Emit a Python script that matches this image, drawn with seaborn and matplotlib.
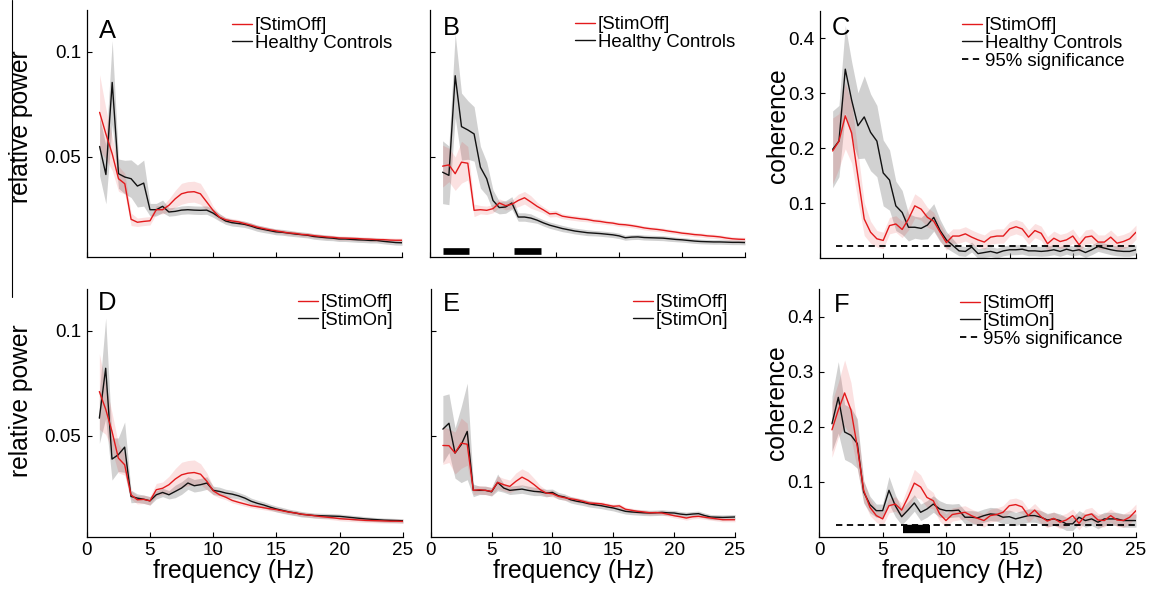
"""Relative power and coherence spectra, StimOff vs controls / StimOn (panels A-F)."""
import matplotlib

matplotlib.use("Agg")
import matplotlib.pyplot as plt
import numpy as np
import pandas as pd
import seaborn as sns
from matplotlib.lines import Line2D

W, H = 1151, 594

# frequency bins (0.5 Hz resolution, 1-25 Hz)
FREQ_HZ = np.arange(1.0, 25.5, 0.5)

# ---- A: relative power, StimOff vs Healthy Controls
A_OFF = [.0711, .0608, .0513, .0394, .0370, .0200, .0186, .0190, .0193, .0246,
         .0246, .0267, .0298, .0322, .0330, .0332, .0322, .0283, .0243, .0211,
         .0198, .0192, .0188, .0180, .0172, .0163, .0156, .0150, .0145, .0140,
         .0135, .0133, .0128, .0126, .0122, .0119, .0116, .0114, .0111, .0110,
         .0109, .0108, .0106, .0105, .0103, .0103, .0101, .0100, .0100]
A_OFF_ERR = [.018, .012, .008, .006, .005, .003, .002, .002, .002, .002,
             .002, .003, .004, .005, .005, .005, .005, .004, .002, .0015,
             .0012, .0012, .0011, .0011, .0011, .001, .001, .001, .001, .001,
             .001, .001, .001, .001, .001, .001, .001, .001, .001, .001,
             .001, .001, .001, .001, .001, .001, .001, .001, .001]
A_HC = [.0548, .0414, .0854, .0418, .0402, .0394, .0359, .0373, .0246, .0246,
        .0262, .0235, .0238, .0244, .0246, .0244, .0243, .0244, .0230, .0210,
        .0192, .0184, .0180, .0176, .0168, .0158, .0152, .0146, .0140, .0138,
        .0134, .0130, .0127, .0124, .0118, .0115, .0112, .0110, .0106, .0106,
        .0104, .0102, .0101, .0099, .0099, .0095, .0092, .0089, .0088]
A_HC_ERR = [.014, .014, .020, .007, .008, .009, .010, .011, .003, .003,
            .003, .002, .002, .002, .002, .002, .002, .002, .002, .0018,
            .0016, .0016, .0015, .0015, .0015, .0015, .0015, .0014, .0014, .0014,
            .0014, .0013, .0013, .0013, .0013, .0013, .0013, .0012, .0012, .0012,
            .0012, .0012, .0012, .0012, .0012, .0012, .0012, .0012, .0012]

# ---- B: relative power (second site), StimOff vs Healthy Controls
B_OFF = [.0454, .0460, .0418, .0473, .0468, .0243, .0246, .0243, .0251, .0278,
         .0265, .0272, .0290, .0303, .0283, .0262, .0245, .0226, .0228, .0215,
         .0210, .0206, .0202, .0199, .0193, .0190, .0185, .0182, .0176, .0174,
         .0170, .0165, .0159, .0155, .0152, .0148, .0143, .0139, .0134, .0131,
         .0127, .0125, .0121, .0119, .0116, .0111, .0107, .0105, .0104]
B_OFF_ERR = [.010, .008, .008, .010, .008, .003, .002, .002, .002, .002,
             .002, .002, .003, .003, .003, .002, .0015, .0015, .0015, .0012,
             .0012, .0012, .0012, .0011, .0011, .0011, .001, .001, .001, .001,
             .001, .001, .001, .001, .001, .001, .001, .001, .001, .001,
             .001, .001, .001, .001, .001, .001, .001, .001, .001]
B_HC = [.0425, .0410, .0886, .0643, .0627, .0608, .0449, .0394, .0290, .0256,
        .0259, .0278, .0211, .0211, .0206, .0196, .0183, .0172, .0164, .0156,
        .0150, .0144, .0140, .0136, .0134, .0132, .0129, .0126, .0121, .0112,
        .0115, .0116, .0113, .0112, .0111, .0110, .0107, .0104, .0102, .0099,
        .0096, .0094, .0093, .0092, .0092, .0091, .0090, .0090, .0089]
B_HC_ERR = [.015, .014, .020, .016, .014, .013, .010, .008, .005, .003,
            .003, .003, .002, .002, .002, .0015, .0015, .0015, .0015, .0015,
            .0014, .0014, .0014, .0014, .0013, .0013, .0013, .0013, .0013, .0012,
            .0012, .0012, .0012, .0012, .0012, .0012, .0012, .0011, .0011, .0011,
            .0011, .0011, .0011, .0011, .0011, .0011, .0011, .0011, .0011]
B_SIG_BARS_HZ = [(1.0, 3.1), (6.7, 8.8)]
B_SIG_BAR_Y = 0.0048

# ---- C: coherence, StimOff vs Healthy Controls
C_OFF = [.195, .213, .259, .228, .149, .071, .047, .035, .032, .059,
         .062, .052, .071, .095, .089, .074, .067, .047, .028, .040,
         .040, .044, .038, .033, .029, .038, .040, .040, .053, .057,
         .053, .038, .050, .045, .026, .036, .030, .033, .040, .024,
         .038, .040, .029, .029, .038, .027, .030, .035, .047]
C_OFF_ERR = [.060, .050, .060, .055, .045, .030, .020, .015, .015, .015,
             .015, .015, .020, .022, .020, .018, .016, .015, .014, .013,
             .013, .013, .013, .013, .013, .013, .013, .013, .013, .013,
             .013, .013, .013, .013, .013, .013, .013, .013, .013, .013,
             .013, .013, .013, .013, .013, .013, .013, .013, .013]
C_HC = [.198, .213, .344, .288, .241, .257, .229, .213, .155, .142,
        .095, .083, .056, .056, .054, .060, .074, .050, .033, .023,
        .013, .012, .020, .008, .010, .012, .009, .013, .015, .015,
        .016, .013, .013, .012, .013, .015, .012, .016, .013, .015,
        .010, .015, .021, .018, .015, .013, .012, .012, .015]
C_HC_ERR = [.070, .065, .080, .070, .060, .075, .070, .065, .060, .055,
            .045, .040, .025, .020, .020, .025, .025, .020, .015, .012,
            .009, .009, .009, .009, .009, .009, .009, .009, .009, .009,
            .009, .009, .009, .009, .009, .009, .009, .009, .009, .009,
            .009, .009, .009, .009, .009, .009, .009, .009, .009]

# ---- D: relative power, StimOff vs StimOn
D_OFF = [.0711, .0627, .0521, .0394, .0362, .0219, .0195, .0197, .0190, .0243,
         .0250, .0267, .0294, .0314, .0322, .0325, .0317, .0283, .0238, .0219,
         .0207, .0192, .0183, .0175, .0167, .0162, .0157, .0152, .0148, .0142,
         .0136, .0132, .0126, .0123, .0119, .0115, .0112, .0109, .0105, .0103,
         .0101, .0099, .0097, .0096, .0095, .0094, .0093, .0093, .0092]
D_OFF_ERR = [.018, .012, .009, .007, .005, .002, .002, .002, .002, .003,
             .003, .004, .005, .006, .006, .006, .005, .004, .002, .0015,
             .0012, .0012, .0011, .0011, .001, .001, .001, .001, .001, .001,
             .001, .001, .001, .001, .001, .001, .001, .001, .001, .001,
             .001, .001, .001, .001, .001, .001, .001, .001, .001]
D_ON = [.0584, .0822, .0389, .0410, .0446, .0211, .0203, .0198, .0190, .0219,
        .0230, .0219, .0235, .0251, .0275, .0262, .0267, .0275, .0240, .0235,
        .0227, .0222, .0214, .0203, .0188, .0178, .0170, .0160, .0151, .0144,
        .0137, .0132, .0126, .0123, .0120, .0119, .0118, .0117, .0116, .0113,
        .0110, .0107, .0104, .0102, .0100, .0098, .0097, .0096, .0095]
D_ON_ERR = [.012, .024, .010, .008, .012, .003, .002, .002, .002, .002,
            .002, .002, .003, .003, .003, .003, .003, .003, .002, .002,
            .0018, .0018, .0016, .0016, .0015, .0015, .0015, .0014, .0014, .0014,
            .0013, .0013, .0013, .0012, .0012, .0012, .0012, .0012, .0011, .0011,
            .0011, .0011, .0011, .001, .001, .001, .001, .001, .001]

# ---- E: relative power (second site), StimOff vs StimOn
E_OFF = [.0454, .0453, .0418, .0465, .0460, .0240, .0243, .0240, .0235, .0278,
         .0267, .0259, .0283, .0303, .0288, .0267, .0243, .0227, .0224, .0211,
         .0205, .0200, .0195, .0188, .0180, .0178, .0176, .0170, .0164, .0166,
         .0150, .0145, .0140, .0137, .0133, .0134, .0132, .0126, .0119, .0114,
         .0108, .0114, .0116, .0112, .0108, .0104, .0100, .0100, .0100]
E_OFF_ERR = [.009, .008, .010, .012, .010, .002, .002, .002, .002, .003,
             .003, .003, .004, .004, .004, .003, .002, .0015, .0015, .0012,
             .0012, .0011, .0011, .001, .001, .001, .001, .001, .001, .001,
             .001, .001, .001, .001, .001, .001, .001, .001, .001, .001,
             .001, .001, .001, .001, .001, .001, .001, .001, .001]
E_ON = [.0532, .0560, .0418, .0457, .0521, .0240, .0240, .0240, .0233, .0278,
        .0251, .0240, .0243, .0246, .0240, .0235, .0233, .0227, .0230, .0214,
        .0208, .0195, .0188, .0183, .0176, .0171, .0167, .0161, .0156, .0148,
        .0140, .0137, .0135, .0133, .0132, .0133, .0135, .0133, .0132, .0127,
        .0124, .0127, .0129, .0120, .0113, .0112, .0111, .0112, .0113]
E_ON_ERR = [.016, .014, .012, .018, .023, .003, .002, .002, .002, .004,
            .002, .002, .002, .002, .002, .002, .0018, .0018, .0016, .0016,
            .0015, .0015, .0015, .0015, .0015, .0014, .0014, .0014, .0014, .0014,
            .0013, .0013, .0013, .0013, .0013, .0013, .0013, .0012, .0012, .0012,
            .0012, .0012, .0012, .0012, .0012, .0012, .0012, .0012, .0012]

# ---- F: coherence, StimOff vs StimOn
F_OFF = [.194, .230, .261, .230, .163, .084, .053, .038, .032, .056,
         .059, .048, .071, .097, .090, .071, .065, .041, .029, .040,
         .042, .044, .038, .033, .029, .038, .040, .044, .056, .058,
         .054, .038, .048, .036, .028, .033, .026, .030, .038, .024,
         .038, .041, .030, .029, .038, .030, .029, .035, .047]
F_OFF_ERR = [.050, .050, .060, .050, .040, .020, .015, .012, .012, .013,
             .013, .013, .020, .025, .022, .018, .015, .013, .012, .012,
             .012, .012, .012, .012, .012, .012, .012, .012, .012, .012,
             .012, .012, .012, .012, .012, .012, .012, .012, .012, .012,
             .012, .012, .012, .012, .012, .012, .012, .012, .012]
F_ON = [.205, .253, .190, .184, .169, .081, .058, .047, .047, .084,
        .056, .036, .048, .061, .044, .050, .059, .050, .047, .047,
        .048, .035, .035, .034, .038, .041, .040, .035, .036, .032,
        .035, .038, .038, .035, .030, .032, .029, .023, .023, .035,
        .029, .032, .026, .032, .032, .032, .029, .029, .029]
F_ON_ERR = [.050, .065, .050, .050, .045, .020, .015, .012, .012, .025,
            .020, .015, .015, .015, .015, .015, .015, .015, .013, .012,
            .012, .012, .012, .012, .012, .012, .012, .012, .012, .012,
            .012, .012, .012, .012, .012, .012, .012, .012, .012, .012,
            .012, .012, .012, .012, .012, .012, .012, .012, .012]
F_SIG_BARS_HZ = [(6.6, 8.7)]
F_SIG_BAR_Y = 0.014

SIG_LEVEL = 0.021  # 95% significance of coherence
SIG_START_HZ = 1.3

POWER_TICKS = [0.05, 0.1]
POWER_TICKLABELS = ["0.05", "0.1"]
COH_TICKS = [0.1, 0.2, 0.3, 0.4]
COH_TICKLABELS = ["0.1", "0.2", "0.3", "0.4"]
FREQ_TICKS = [0, 5, 10, 15, 20, 25]

RED = "#e31a1c"
BLACK = "#111111"
LABEL_OFF = "[StimOff]"


def px_box(x0, y0, x1, y1):
    return [x0 / W, 1 - y1 / H, (x1 - x0) / W, (y1 - y0) / H]


def fig_xy(x, y):
    return x / W, 1 - y / H


PANELS = [
    dict(letter="A", box=(87, 10, 402, 257), letter_xy=(99, 38), leg_xy=(232, 17),
         off=A_OFF, off_err=A_OFF_ERR, other=A_HC, other_err=A_HC_ERR,
         other_label="Healthy Controls", kind="power", row=0, ylab=True,
         ylab_xy=(-0.170, 0.527)),
    dict(letter="B", box=(430, 10, 745, 257), letter_xy=(443, 35), leg_xy=(575, 16),
         off=B_OFF, off_err=B_OFF_ERR, other=B_HC, other_err=B_HC_ERR,
         other_label="Healthy Controls", kind="power", row=0, ylab=False,
         bars=B_SIG_BARS_HZ, bar_y=B_SIG_BAR_Y, bar_lw=4.8),
    dict(letter="C", box=(820, 11, 1136, 258), letter_xy=(832, 35), leg_xy=(962, 17),
         off=C_OFF, off_err=C_OFF_ERR, other=C_HC, other_err=C_HC_ERR,
         other_label="Healthy Controls", kind="coh", row=0, ylab=True,
         ylab_xy=(-0.095, 0.534)),
    dict(letter="D", box=(86.7, 289, 403, 536.5), letter_xy=(98, 310), leg_xy=(298, 294),
         off=D_OFF, off_err=D_OFF_ERR, other=D_ON, other_err=D_ON_ERR,
         other_label="[StimOn]", kind="power", row=1, ylab=True,
         ylab_xy=(-0.170, 0.55), xlab_x=0.463),
    dict(letter="E", box=(430.7, 289, 735, 536.5), letter_xy=(443, 311), leg_xy=(633, 294),
         off=E_OFF, off_err=E_OFF_ERR, other=E_ON, other_err=E_ON_ERR,
         other_label="[StimOn]", kind="power", row=1, ylab=False, xlab_x=0.471),
    dict(letter="F", box=(819.3, 289, 1136, 536.5), letter_xy=(834, 311.5), leg_xy=(960, 295),
         off=F_OFF, off_err=F_OFF_ERR, other=F_ON, other_err=F_ON_ERR,
         other_label="[StimOn]", kind="coh", row=1, ylab=True,
         ylab_xy=(-0.095, 0.54), xlab_x=0.454,
         bars=F_SIG_BARS_HZ, bar_y=F_SIG_BAR_Y, bar_lw=6.0),
]


def draw_panel(fig, p):
    ax = fig.add_axes(px_box(*p["box"]))
    df = pd.concat([
        pd.DataFrame({"freq": FREQ_HZ, "value": p["off"], "err": p["off_err"],
                      "group": LABEL_OFF}),
        pd.DataFrame({"freq": FREQ_HZ, "value": p["other"], "err": p["other_err"],
                      "group": p["other_label"]}),
    ], ignore_index=True)
    df["lo"] = df["value"] - df["err"]
    df["hi"] = df["value"] + df["err"]

    off = df[df["group"] == LABEL_OFF]
    oth = df[df["group"] == p["other_label"]]
    ax.fill_between(oth["freq"], oth["lo"], oth["hi"], color="#9a9a9a",
                    alpha=0.45, linewidth=0, zorder=1)
    ax.fill_between(off["freq"], off["lo"], off["hi"], color=RED,
                    alpha=0.13, linewidth=0, zorder=1.5)
    sns.lineplot(data=df, x="freq", y="value", hue="group",
                 palette={LABEL_OFF: RED, p["other_label"]: BLACK},
                 hue_order=[p["other_label"], LABEL_OFF],
                 linewidth=1.0, legend=False, ax=ax, zorder=3)

    handles = [Line2D([], [], color=RED, lw=1.0, label=LABEL_OFF),
               Line2D([], [], color=BLACK, lw=1.0, label=p["other_label"])]
    if p["kind"] == "coh":
        ax.hlines(SIG_LEVEL, SIG_START_HZ, FREQ_HZ[-1], colors="black",
                  linestyles=(0, (3.5, 2.5)), linewidth=1.3, zorder=2)
        handles.append(Line2D([], [], color="black", lw=1.3,
                              linestyle=(0, (3.5, 2.5)), label="95% significance"))
    for lo, hi in p.get("bars", []):
        ax.hlines(p["bar_y"], lo, hi, colors="black", linewidth=p["bar_lw"],
                  capstyle="butt", zorder=4)

    ax.set_xlim(0, 25)
    ax.set_xticks(FREQ_TICKS)
    if p["kind"] == "power":
        ax.set_ylim(0.002, 0.12)
        ax.set_yticks(POWER_TICKS, POWER_TICKLABELS)
        ylabel = "relative power"
    else:
        ax.set_ylim(0.0, 0.45)
        ax.set_yticks(COH_TICKS, COH_TICKLABELS)
        ylabel = "coherence"

    ax.tick_params(direction="in", length=3.6, width=0.8, labelsize=13.6,
                   pad=4, colors="black")
    if p["row"] == 0:
        ax.tick_params(labelbottom=False)
        ax.set_xlabel("")
    else:
        ax.set_xlabel("frequency (Hz)", fontsize=17.7, color="black")
        ax.xaxis.set_label_coords(p["xlab_x"], -0.09)
    if p["ylab"]:
        ax.set_ylabel(ylabel, fontsize=17.7, color="black")
        ax.yaxis.set_label_coords(*p["ylab_xy"])
    else:
        ax.set_ylabel("")
        ax.tick_params(labelleft=False)

    sns.despine(ax=ax)
    for side in ("left", "bottom"):
        ax.spines[side].set_linewidth(0.9)
        ax.spines[side].set_color("black")

    leg = ax.legend(handles=handles, loc="upper left",
                    bbox_to_anchor=fig_xy(*p["leg_xy"]), bbox_transform=fig.transFigure,
                    frameon=False, borderpad=0, borderaxespad=0, handlelength=1.1,
                    handletextpad=0.12, labelspacing=0.05, fontsize=13.4)
    for t in leg.get_texts():
        t.set_color("black")
    fig.text(*fig_xy(*p["letter_xy"]), p["letter"], fontsize=18.4,
             ha="left", va="baseline", color="black")
    return ax


def main():
    sns.set_style("ticks")
    plt.rcParams["font.family"] = ["Liberation Sans", "DejaVu Sans"]
    plt.rcParams["text.color"] = "black"
    plt.rcParams["axes.labelcolor"] = "black"
    fig = plt.figure(figsize=(W / 100, H / 100), dpi=100)
    for p in PANELS:
        assert len(p["off"]) == len(FREQ_HZ) == len(p["other"])
        assert len(p["off_err"]) == len(FREQ_HZ) == len(p["other_err"])
        draw_panel(fig, p)
    # thin rule at the left edge of the top row (cropping artefact of the figure)
    fig.add_artist(Line2D([11.5 / W] * 2, [1.0, 1 - 297 / H],
                          transform=fig.transFigure, color="black", lw=0.8))
    fig.savefig("out.png", dpi=100)


if __name__ == "__main__":
    main()
